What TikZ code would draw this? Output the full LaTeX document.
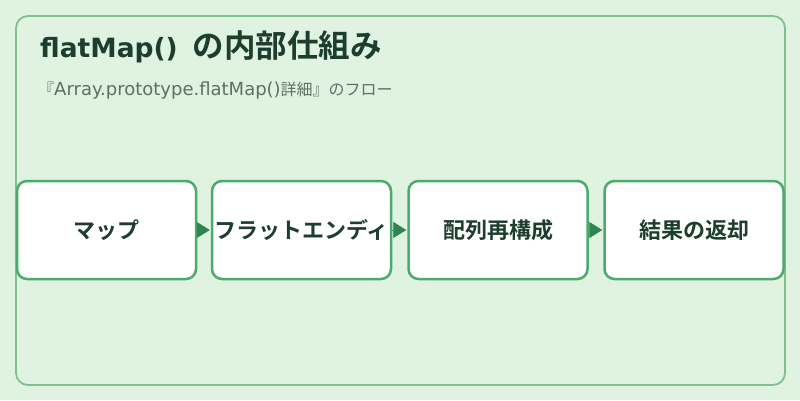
\documentclass[tikz,border=0pt]{standalone}
\usepackage{fontspec}
\setmainfont{Noto Sans CJK JP}[BoldFont={Noto Sans CJK JP Bold}]
\newfontfamily\latinfont{DejaVu Sans}
\usetikzlibrary{arrows.meta,positioning}
\definecolor{bgmint}{HTML}{E0F2E0}
\definecolor{framegreen}{HTML}{80BF90}
\definecolor{boxgreen}{HTML}{4CAA6C}
\definecolor{arrowgreen}{HTML}{2E8452}
\definecolor{titleink}{HTML}{1D3D2F}
\definecolor{subink}{HTML}{5E7066}
\tikzstyle{stepbox} = [draw=boxgreen, line width=2.5pt, fill=white, rounded corners=10pt, minimum width=179pt, minimum height=98pt, inner sep=0pt, font=\fontsize{22}{26}\selectfont\bfseries, text=titleink]
\tikzstyle{flow} = [draw=arrowgreen, line width=0.6pt, -{Triangle[length=13pt,width=16pt]}, arrowgreen, shorten >=1pt]

\begin{document}
\begin{tikzpicture}[x=1pt,y=-1pt]
                \useasboundingbox (0,0) rectangle (800,400);
                \fill [bgmint] (0,0) rectangle (800,400);
                \draw [framegreen, line width=1.8pt, rounded corners=12pt] (16,16) rectangle (785,385);
                \node [anchor=base west, text=titleink, inner sep=0pt] (title) at (40,57) {{\latinfont\bfseries\fontsize{26.5}{30}\selectfont flatMap()}\hspace{15pt}{\bfseries\fontsize{31.5}{35}\selectfont の内部仕組み}};
                \node [anchor=base west, text=subink, inner sep=0pt, font=\fontsize{16}{19}\selectfont] (subtitle) at (38,95) {『{\latinfont\fontsize{18}{20}\selectfont Array.prototype.flatMap()}詳細』のフロー};
                \node [stepbox] (map) at (106.5,230) {マップ};
                \node [stepbox] (flatten) at (301.5,230) {フラットエンディ};
                \node [stepbox] (rebuild) at (498,230) {配列再構成};
                \node [stepbox] (result) at (694,230) {結果の返却};
                \draw [flow] (map) -- (flatten);
                \draw [flow] (flatten) -- (rebuild);
                \draw [flow] (rebuild) -- (result);
            \end{tikzpicture}
\end{document}
